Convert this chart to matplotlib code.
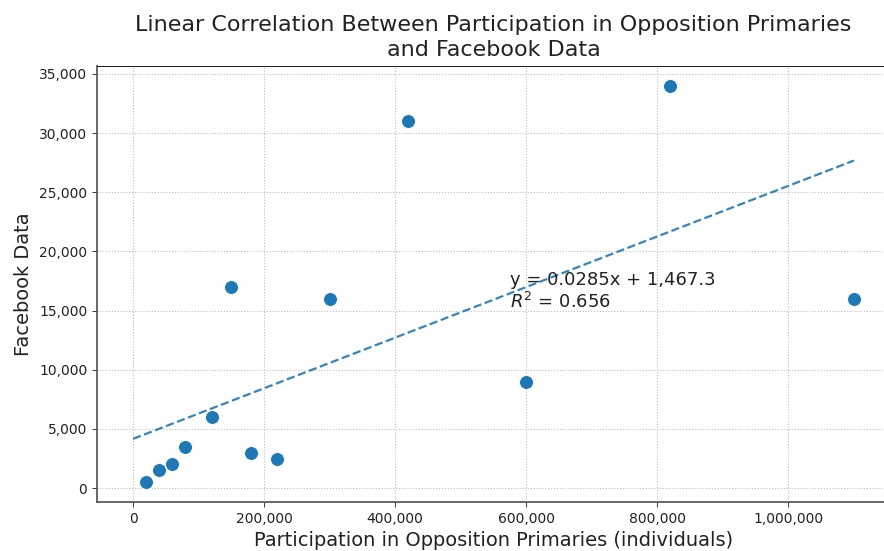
import numpy as np
import matplotlib
matplotlib.use("Agg")
import matplotlib.pyplot as plt
from matplotlib.ticker import FuncFormatter

participation = [20000, 40000, 60000, 80000, 120000, 150000, 180000, 220000,
                 300000, 420000, 600000, 820000, 1100000]
facebook = [500, 1500, 2000, 3500, 6000, 17000, 3000, 2500,
            16000, 31000, 9000, 34000, 16000]
eq_text = "y = 0.0285x + 1,467.3\n$R^2$ = 0.656"

DPI = 78
K = 100 / 78
fig = plt.figure(figsize=(884 / DPI, 551 / DPI), dpi=DPI)
ax = fig.add_axes([97 / 884, 1 - 502 / 551, (890 - 97) / 884, (502 - 66) / 551])

x = np.array(participation, dtype=float)
y = np.array(facebook, dtype=float)
ax.scatter(x, y, s=100 * K * K, color="#1f77b4", edgecolor="white", linewidth=0.8, zorder=3)

slope, intercept = np.polyfit(x, y, 1)
xl = np.array([0, x.max()])
ax.plot(xl, slope * xl + intercept, "--", color="#1f77b4", alpha=0.9, lw=1.6 * K, zorder=2)

ax.text(575000, 16600, eq_text, fontsize=13 * K, ha="left", va="center", color="#222222")

ax.set_title("Linear Correlation Between Participation in Opposition Primaries\nand Facebook Data",
             fontsize=16 * K, color="#222222", pad=7 * K, linespacing=1.35)
ax.set_xlabel("Participation in Opposition Primaries (individuals)", fontsize=14 * K,
              color="#222222", labelpad=4 * K)
ax.set_ylabel("Facebook Data", fontsize=14 * K, color="#222222", labelpad=4 * K)

fmt = FuncFormatter(lambda v, p: f"{int(v):,}")
ax.xaxis.set_major_formatter(fmt)
ax.yaxis.set_major_formatter(fmt)
ax.set_xticks([0, 200000, 400000, 600000, 800000, 1000000])
ax.set_yticks(np.arange(0, 35001, 5000))
ax.tick_params(labelsize=10 * K, colors="#222222", length=3.5 * K, pad=3.5 * K)
ax.grid(True, linestyle=":", color="#bbbbbb", lw=1)
ax.set_axisbelow(True)
for s in ["left", "bottom"]:
    ax.spines[s].set_color("#555555")
    ax.spines[s].set_linewidth(1.6)
ax.set_xlim(-55000, 1155000)
ax.set_ylim(-1175, 35675)

fig.savefig("out.png", dpi=DPI)
